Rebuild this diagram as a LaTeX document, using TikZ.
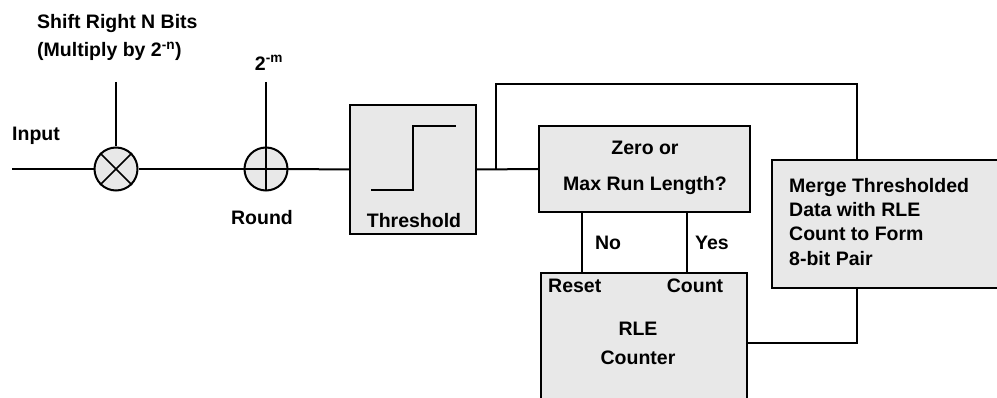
\documentclass[tikz,border=0pt]{standalone}
\usepackage{fontspec}
\setmainfont{Liberation Sans}
\begin{document}
\begin{tikzpicture}[x=1pt,y=-1pt,
  lbl/.style={font=\bfseries\fontsize{19.5}{24}\selectfont, inner sep=0pt},
  blk/.style={draw, line width=2.3pt, fill=black!9, inner sep=0pt},
  opc/.style={draw, circle, line width=2pt, fill=black!9, minimum size=43pt, inner sep=0pt},
  wire/.style={line width=2pt}]
\useasboundingbox (0,0) rectangle (997,398);
\clip (0,0) rectangle (997,398);

% operators
\node[opc] (mul) at (116,169) {};
\draw[line width=1.5pt] (mul.north west) -- (mul.south east) (mul.north east) -- (mul.south west);
\node[opc] (add) at (266,169) {};
\draw[line width=1.5pt] (add.north) -- (add.south) (add.west) -- (add.east);

% blocks
\node[blk, minimum width=126pt, minimum height=129pt] (thr) at (413,169.5) {};
\draw[line width=2.2pt] (371,190) -- (413,190) -- (413,126) -- (456,126);
\node[lbl] (thrt) at (414,221) {Threshold};

\node[blk, minimum width=211pt, minimum height=86pt] (zero) at (644.5,169) {};
\node[lbl] (zt1) at (645,148) {Zero or};
\node[lbl] (zt2) at (645,186) {Max Run Length?};

\node[blk, minimum width=206pt, minimum height=160pt] (rle) at (644,353) {};
\node[lbl, anchor=west] (reset) at (548,286) {Reset};
\node[lbl] (count) at (695,286) {Count};
\node[lbl] (rlet) at (638,329) {RLE};
\node[lbl] (cnt) at (638,358) {Counter};

\node[blk, minimum width=240pt, minimum height=128pt] (merge) at (892,224) {};
\node[lbl, anchor=north west, align=left, font=\bfseries\fontsize{19.5}{24.3}\selectfont] (mt) at (789,178)
  {Merge Thresholded\\Data with RLE\\Count to Form\\8-bit Pair};

% labels
\node[lbl, anchor=west] (inp) at (12,136) {Input};
\node[lbl, anchor=north west, align=left, font=\bfseries\fontsize{19.5}{28.5}\selectfont] (shift) at (37,14)
  {Shift Right N Bits\\(Multiply by 2\textsuperscript{-n})};
\node[lbl] (pm) at (269,63) {2\textsuperscript{-m}};
\node[lbl] (round) at (262,218) {Round};
\node[lbl] (no) at (608,243) {No};
\node[lbl] (yes) at (712,243) {Yes};

% connectors
\coordinate (in0) at (12,169);
\coordinate (st) at (116,82);
\coordinate (mt0) at (266,82);
\coordinate (j) at (496,169);
\coordinate (jt) at (857,84);
\coordinate (nx) at (582,0);
\coordinate (yx) at (687,0);
\coordinate (ry) at (0,343);

\draw[wire] (in0) -- (mul.west);
\draw[wire] (mul.east) -- (add.west);
\draw[wire] (add.east) -- (thr.west);
\draw[wire] (thr.east) -- (zero.west);
\draw[wire] (st) -- (mul.north);
\draw[wire] (mt0) -- (add.north);
\draw[wire] (j) |- (jt) -- (jt |- merge.north);
\draw[wire] (nx |- zero.south) -- (nx |- rle.north);
\draw[wire] (yx |- zero.south) -- (yx |- rle.north);
\draw[wire] (rle.east |- ry) -| (jt |- merge.south);
\end{tikzpicture}
\end{document}
